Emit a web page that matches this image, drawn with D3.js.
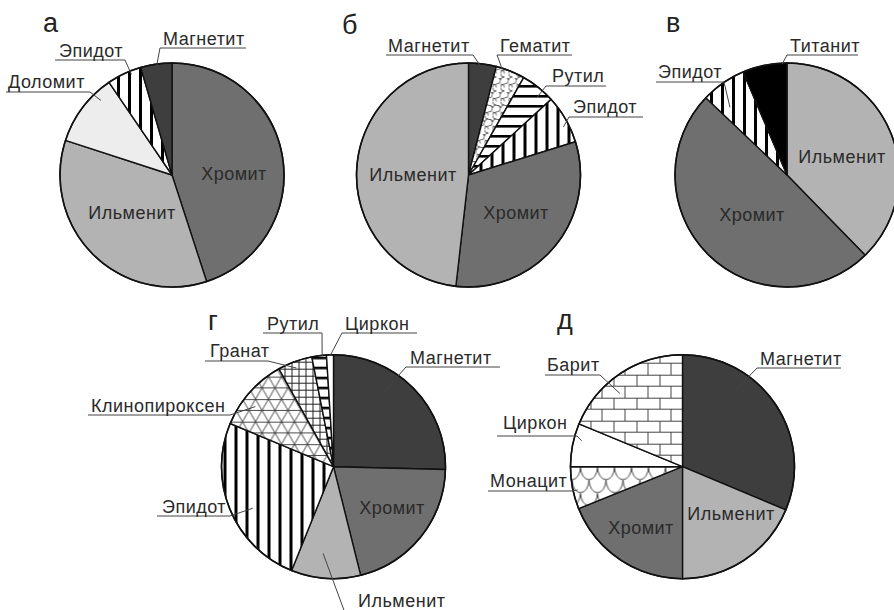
<!DOCTYPE html>
<html><head><meta charset="utf-8">
<script src="https://d3js.org/d3.v7.min.js"></script>
<style>
html,body{margin:0;padding:0;background:#fff;}
text{font-family:"Liberation Sans",Arial,sans-serif;}
</style></head>
<body><svg id="c" width="894" height="610"></svg>
<script>
// ---- data ----
const titles = ["а","б","в","г","д"];
const catsA = ["Хромит","Ильменит","Доломит","Эпидот","Магнетит"];
const valsA = [45, 35, 10.5, 5, 4.5];
const catsB = ["Магнетит","Гематит","Рутил","Эпидот","Хромит","Ильменит"];
const valsB = [4, 4.2, 5, 7, 31.6, 48.2];
const catsV = ["Ильменит","Хромит","Эпидот","Титанит"];
const valsV = [37.7, 49.4, 6.5, 6.4];
const catsG = ["Магнетит","Хромит","Ильменит","Эпидот","Клинопироксен","Гранат","Рутил","Циркон"];
const valsG = [25.4, 20.7, 10, 25.2, 10.6, 5, 2.1, 1.0];
const catsD = ["Магнетит","Ильменит","Хромит","Монацит","Циркон","Барит"];
const valsD = [31.3, 18.7, 18.9, 6.1, 6.25, 18.75];

// ---- styles / layout ----
const fills = {
  "Хромит":"#6f6f6f","Ильменит":"#b3b3b3","Магнетит":"#3e3e3e","Доломит":"#ededed",
  "Титанит":"#000000","Циркон":"#ffffff","Эпидот":"url(#vstripes)","Рутил":"url(#hstripes)",
  "Гематит":"url(#cloud)","Гранат":"url(#grid)","Клинопироксен":"url(#tri)",
  "Барит":"url(#brick)","Монацит":"url(#scale)"
};
const R = 112;
const pies = [
  {title:titles[0], cats:catsA, vals:valsA, cx:172, cy:175, tx:43, ty:32,
   inner:[["Хромит",234,174],["Ильменит",132,213]],
   outer:[
    {n:"Доломит", x:8, y:88, ul:[6,90,92], from:"r", t:0.75, k:0.92},
    {n:"Эпидот", x:59, y:57, ul:[55,125,60], from:"r", t:0.68, k:0.97},
    {n:"Магнетит", x:163, y:45, ul:[160,246,48], from:"l", t:0.5, k:0.98}]},
  {title:titles[1], cats:catsB, vals:valsB, cx:468.5, cy:175, tx:342, ty:34,
   inner:[["Ильменит",413,175],["Хромит",516,213]],
   outer:[
    {n:"Магнетит", x:388, y:52, ul:[386,473,55], from:"r", t:0.5, k:0.96},
    {n:"Гематит", x:500, y:52, ul:[497,572,55], from:"l", t:0.22, k:0.99},
    {n:"Рутил", x:552, y:82, ul:[546,606,86], from:"l", t:0.66, k:0.93},
    {n:"Эпидот", x:573, y:113, ul:[569,643,117], from:"l", t:0.62, k:0.95}]},
  {title:titles[2], cats:catsV, vals:valsV, cx:787, cy:175, tx:666, ty:32,
   inner:[["Ильменит",842,157],["Хромит",752,215]],
   outer:[
    {n:"Титанит", x:790, y:52, ul:[787,858,55], from:"l", t:0.89, k:0.99},
    {n:"Эпидот", x:658, y:78, ul:[656,724,82], from:"r", t:0.27, k:0.79}]},
  {title:titles[3], cats:catsG, vals:valsG, cx:333.5, cy:466.7, tx:208, ty:330,
   inner:[["Хромит",392,508]],
   outer:[
    {n:"Рутил", x:267, y:330, ul:[263,322,333], from:"r", t:0.7, k:0.99},
    {n:"Циркон", x:345, y:330, ul:[342,417,333], from:"l", t:0.5, k:0.99},
    {n:"Гранат", x:210, y:357, ul:[205,268,361], from:"r", t:0.48, k:0.94},
    {n:"Клинопироксен", x:91, y:412, ul:[88,230,415], from:"r", t:0.39, k:0.88},
    {n:"Эпидот", x:162, y:513, ul:[157,230,516], from:"r", t:0.45, k:0.81},
    {n:"Магнетит", x:410, y:364, ul:[406,500,367], from:"l", t:0.37, k:0.79},
    {n:"Ильменит", x:358, y:607, ul:[345,448,613], from:"l", t:0.58, k:0.78}]},
  {title:titles[4], cats:catsD, vals:valsD, cx:682.5, cy:466.7, tx:557, ty:329,
   inner:[["Ильменит",731,514],["Хромит",641,528]],
   outer:[
    {n:"Магнетит", x:760, y:365, ul:[757,841,368], from:"l", t:0.31, k:0.84},
    {n:"Барит", x:547, y:371, ul:[545,600,375], from:"r", t:0.40, k:0.86},
    {n:"Циркон", x:503, y:429, ul:[497,577,436], from:"r", t:0.64, k:0.93},
    {n:"Монацит", x:490, y:487, ul:[488,571,491], from:"r", t:0.43, k:0.96}]}
];

const svg = d3.select("#c");
const defs = svg.append("defs");

// vertical stripes
let p = defs.append("pattern").attr("id","vstripes").attr("patternUnits","userSpaceOnUse").attr("width",11).attr("height",11);
p.append("rect").attr("width",11).attr("height",11).attr("fill","#fff");
p.append("rect").attr("x",0).attr("width",3).attr("height",11).attr("fill","#000");
// horizontal stripes
p = defs.append("pattern").attr("id","hstripes").attr("patternUnits","userSpaceOnUse").attr("width",10).attr("height",10);
p.append("rect").attr("width",10).attr("height",10).attr("fill","#fff");
p.append("rect").attr("y",0).attr("width",10).attr("height",2.6).attr("fill","#000");
// cloud (hematite)
p = defs.append("pattern").attr("id","cloud").attr("patternUnits","userSpaceOnUse").attr("width",8).attr("height",14);
p.append("rect").attr("width",8).attr("height",14).attr("fill","#fff");
p.append("path").attr("d","M0,3.5A4,3.5 0 0 1 8,3.5M4,7A4,3.5 0 0 0 4,14M4,0A4,3.5 0 0 1 4,7M-4,10.5A4,3.5 0 0 1 4,10.5")
  .attr("stroke","#555").attr("stroke-width",0.9).attr("fill","none");
// grid (garnet)
p = defs.append("pattern").attr("id","grid").attr("patternUnits","userSpaceOnUse").attr("width",7).attr("height",7);
p.append("rect").attr("width",7).attr("height",7).attr("fill","#fff");
p.append("path").attr("d","M0,0.5H7M0.5,0V7").attr("stroke","#222").attr("stroke-width",1);
// triangles (clinopyroxene)
const ta = 13, th = ta*Math.sqrt(3)/2;
p = defs.append("pattern").attr("id","tri").attr("patternUnits","userSpaceOnUse").attr("width",ta).attr("height",2*th);
p.append("rect").attr("width",ta).attr("height",2*th).attr("fill","#fff");
p.append("path").attr("d",`M0,0.5H${ta}M0,${th}H${ta}M0,0L${ta},${2*th}M${ta},0L0,${2*th}`).attr("stroke","#333").attr("stroke-width",0.9).attr("fill","none");
// brick (barite)
const bw = 23, bh = 11.5;
p = defs.append("pattern").attr("id","brick").attr("patternUnits","userSpaceOnUse").attr("width",bw).attr("height",2*bh);
p.append("rect").attr("width",bw).attr("height",2*bh).attr("fill","#fff");
p.append("path").attr("d",`M0,0.5H${bw}M0,${bh}H${bw}M0.5,0V${bh}M${bw/2},${bh}V${2*bh}`).attr("stroke","#444").attr("stroke-width",1).attr("fill","none");
// scales (monazite)
const sw = 17, sh = 13;
p = defs.append("pattern").attr("id","scale").attr("patternUnits","userSpaceOnUse").attr("width",sw).attr("height",sh*2);
p.append("rect").attr("width",sw).attr("height",sh*2).attr("fill","#fff");
p.append("path").attr("d",`M0,0A${sw/2},${sh} 0 0 0 ${sw},0M${-sw/2},${sh}A${sw/2},${sh} 0 0 0 ${sw/2},${sh}M${sw/2},${sh}A${sw/2},${sh} 0 0 0 ${sw*1.5},${sh}M0,${2*sh}A${sw/2},${sh} 0 0 0 ${sw},${2*sh}`)
  .attr("stroke","#444").attr("stroke-width",1).attr("fill","none");

const arc = d3.arc().innerRadius(0).outerRadius(R);
const pieGen = d3.pie().sort(null).value(d=>d.v).startAngle(0).endAngle(2*Math.PI);

pies.forEach(pc=>{
  const data = pc.cats.map((c,i)=>({n:c, v:pc.vals[i]}));
  const arcs = pieGen(data);
  const g = svg.append("g").attr("transform",`translate(${pc.cx},${pc.cy})`);
  g.selectAll("path.sl").data(arcs).join("path").attr("class","sl")
    .attr("d",arc).attr("fill",d=>fills[d.data.n]).attr("stroke","#111").attr("stroke-width",1.4).attr("stroke-linejoin","round");
  g.append("circle").attr("r",R).attr("fill","none").attr("stroke","#111").attr("stroke-width",1.6);

  svg.append("text").attr("x",pc.tx).attr("y",pc.ty).attr("font-size",27).attr("fill","#222").text(pc.title);

  pc.inner.forEach(([n,x,y])=>{
    svg.append("text").attr("x",x).attr("y",y).attr("text-anchor","middle").attr("dominant-baseline","central")
      .attr("font-size",18).attr("letter-spacing",0.5).attr("fill","#2a2a2a").text(n);
  });
  pc.outer.forEach(o=>{
    const a = arcs.find(d=>d.data.n===o.n);
    const ang = a.startAngle + o.t*(a.endAngle-a.startAngle);
    const ex = pc.cx + Math.sin(ang)*R*o.k, ey = pc.cy - Math.cos(ang)*R*o.k;
    const sx = o.from==="l" ? o.ul[0] : o.ul[1];
    svg.append("line").attr("x1",o.ul[0]).attr("x2",o.ul[1]).attr("y1",o.ul[2]).attr("y2",o.ul[2])
      .attr("stroke","#444").attr("stroke-width",1);
    svg.append("line").attr("x1",sx).attr("y1",o.ul[2]).attr("x2",ex).attr("y2",ey)
      .attr("stroke","#444").attr("stroke-width",1);
    svg.append("text").attr("x",o.x).attr("y",o.y).attr("font-size",18).attr("letter-spacing",0.5)
      .attr("fill","#2a2a2a").text(o.n);
  });
});
</script></body></html>
